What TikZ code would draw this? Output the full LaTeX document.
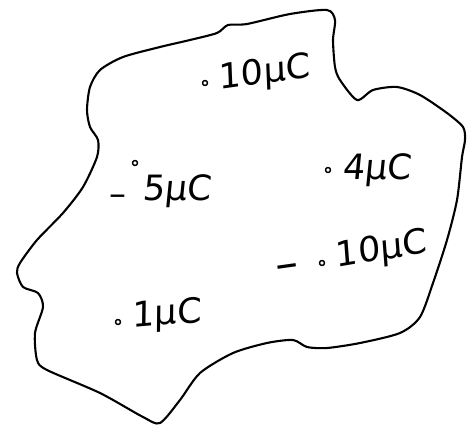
\documentclass[tikz,border=0pt]{standalone}
\usepackage{fontspec}
\setmainfont{DejaVu Sans}
\usetikzlibrary{positioning}

\begin{document}
\begin{tikzpicture}[
  x=1bp, y=-1bp,
  line width=2.1pt, line join=round, line cap=round,
  font=\fontsize{35}{40}\selectfont,
  charge/.style={anchor=base west, inner sep=0pt, xslant=0.1},
  minus/.style={inner sep=0pt, font=\fontsize{#1}{30}\selectfont},
  pt/.style={circle, draw, line width=1.5pt, minimum size=5pt, inner sep=0pt},
  node distance=4bp
]
\useasboundingbox (0,0) rectangle (474,434);

% outline of the region
\draw plot[smooth cycle, tension=0.45] coordinates {
  (228,25) (247,24) (290,14) (327,10) (335,20) (333,40) (335,67) (340,80)
  (357,100) (373,90) (397,87) (420,95) (447,113) (463,127) (465,140)
  (462,157) (457,200) (447,240) (433,283) (420,317) (400,333) (360,343)
  (327,348) (307,347) (293,340) (267,343) (233,353) (200,373) (180,400)
  (160,423) (143,417) (100,393) (47,370) (37,360) (35,333) (43,307)
  (38,293) (23,287) (17,273) (20,263) (37,240) (63,213) (83,187)
  (97,157) (98,140) (90,127) (87,110) (90,87) (100,70) (123,57)
  (160,47) (190,40) (217,33)};

% charges
\node[pt] (p10) at (205,83) {};
\node[right=11bp of p10, charge, yshift=-7bp, rotate=8] (q10) {10μC};

\node[pt] (p5) at (135,163) {};
\node[minus=34] (m5) at (118,200) {–};
\node[right=7bp of p5, charge, yshift=-37bp] (q5) {5μC};

\node[pt] (p4) at (328,170) {};
\node[right=11bp of p4, charge, yshift=-10bp] (q4) {4μC};

\node[pt] (pm10) at (322,263) {};
\node[minus=46, rotate=8] (m10) at (288,272) {–};
\node[right=11bp of pm10, charge, yshift=-5bp, rotate=10] (qm10) {10μC};

\node[pt] (p1) at (118,322) {};
\node[right=11bp of p1, charge, yshift=-6bp, rotate=5] (q1) {1μC};

\end{tikzpicture}
\end{document}
